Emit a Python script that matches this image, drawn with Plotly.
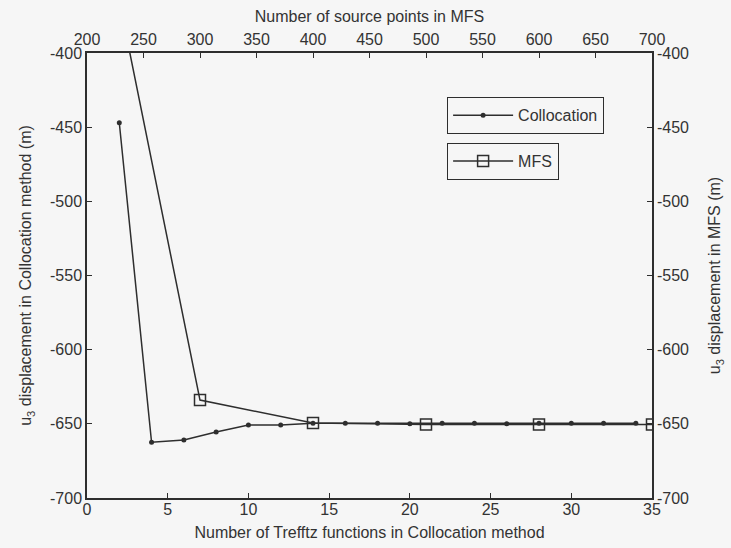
import plotly.graph_objects as go

# Collocation method: number of Trefftz functions vs u3 displacement
n_trefftz = [2, 4, 6, 8, 10, 12, 14, 16, 18, 20, 22, 24, 26, 28, 30, 32, 34]
u3_colloc = [-447, -662.4, -660.9, -655.5, -650.8, -650.8, -649.6, -649.6,
             -649.6, -650, -649.6, -649.6, -650, -649.6, -649.6, -649.6, -649.6]

# MFS: number of source points vs u3 displacement
n_source = [200, 300, 400, 500, 600, 700]
u3_mfs = [-257, -634, -649.4, -650.5, -650.5, -650.5]

x_ticks_colloc = [0, 5, 10, 15, 20, 25, 30, 35]
x_ticks_mfs = [200, 250, 300, 350, 400, 450, 500, 550, 600, 650, 700]
y_ticks = [-700, -650, -600, -550, -500, -450, -400]
y_tick_labels = [str(v) for v in y_ticks]  # plain hyphen minus signs

INK = "#2e2e2e"
BG = "#f6f6f6"
FONT = dict(family="Liberation Sans, Arial, sans-serif", size=16, color="#333333")

fig = go.Figure()

fig.add_trace(go.Scatter(
    x=n_trefftz, y=u3_colloc, name="Collocation", mode="lines+markers",
    line=dict(color=INK, width=1.5),
    marker=dict(symbol="circle", size=5, color=INK),
    xaxis="x", yaxis="y", legend="legend", showlegend=True,
))

fig.add_trace(go.Scatter(
    x=n_source, y=u3_mfs, name="MFS", mode="lines+markers",
    line=dict(color=INK, width=1.5),
    marker=dict(symbol="square-open", size=11, color=INK, line=dict(width=1.5)),
    xaxis="x2", yaxis="y2", legend="legend2", showlegend=True,
))

axis_common = dict(
    showgrid=False, zeroline=False, showline=True, linecolor=INK, linewidth=1.5,
    ticks="inside", ticklen=5, tickwidth=1.2, tickcolor=INK,
    tickfont=FONT, automargin=False,
)

legend_common = dict(
    xanchor="left", yanchor="top",
    bgcolor=BG, bordercolor=INK, borderwidth=1.2, font=FONT,
    tracegroupgap=0, itemwidth=60, visible=True,
)

fig.update_layout(
    width=731, height=548,
    margin=dict(l=87, r=79, t=53, b=50),
    paper_bgcolor=BG, plot_bgcolor=BG,
    font=FONT,
    showlegend=True,
    xaxis=dict(
        range=[0, 35], tickvals=x_ticks_colloc, ticklabelstandoff=-4,
        title=dict(text="Number of Trefftz functions in Collocation method",
                   standoff=10, font=FONT),
        **axis_common,
    ),
    xaxis2=dict(
        range=[200, 700], tickvals=x_ticks_mfs, overlaying="x", side="top",
        anchor="y2",
        title=dict(text="Number of source points in MFS", standoff=4, font=FONT),
        **axis_common,
    ),
    yaxis=dict(
        range=[-700, -400], tickvals=y_ticks, ticktext=y_tick_labels,
        title=dict(text="u<sub>3</sub> displacement in Collocation method (m)",
                   standoff=14, font=FONT),
        **axis_common,
    ),
    yaxis2=dict(
        range=[-700, -400], tickvals=y_ticks, ticktext=y_tick_labels,
        overlaying="y", side="right", anchor="x2",
        title=dict(text="u<sub>3</sub> displacement in MFS (m)",
                   standoff=21, font=FONT),
        **axis_common,
    ),
    legend=dict(x=0.637, y=0.901, **legend_common),
    legend2=dict(x=0.637, y=0.798, **legend_common),
)

fig.write_html("out.html")
